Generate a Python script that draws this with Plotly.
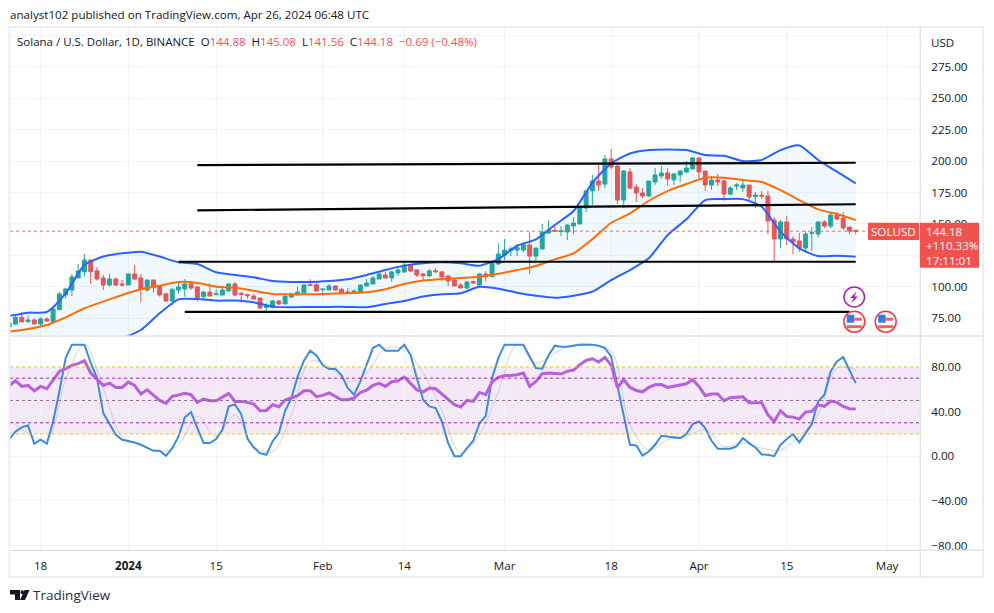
import pandas as pd
import plotly.graph_objects as go

# daily candles, Dec 13 2023 to Apr 26 2024
candle_dates = pd.date_range("2023-12-13", "2024-04-26", freq="D")
candle_open = [68.3,70.4,75.7,72.3,73.6,70.4,74.4,72,81.8,93.5,97.4,107,111.8,121.3,112.6,107,101.4,106.2,102.2,
    101.4,110.2,107,97.4,105.4,100.6,94.3,88.7,97.4,98.2,102.2,99.8,92.1,95.8,93.7,93.4,96.6,102.2,94.7,93.7,92.6,91,83.6,83.6,88.7,86.3,91.8,93.4,95,101.6,101.6,
    97.7,97.4,100.6,98,94.8,94.8,95.6,100.6,102.2,106.2,109.4,107,111,111.8,117.3,113.4,110.2,108.6,112.8,111.8,108.6,105.4,101.4,99,104.1,101.4,110.1,108,118.1,
    125.2,129,129.2,129.2,133.2,124.4,130,142.7,144.8,144,143.5,148.3,149.9,162.6,176.2,184.1,181.7,201.6,196,169,191.3,179.3,174.6,172.2,183.3,188.1,190.5,185,188.9,191.3,193.6,
    202.4,192,180.9,184.9,184.1,173.7,180.1,178.5,180.9,171.6,172.9,172.1,153,138,151.5,138,136.4,130.8,142.5,141.9,151.5,148.3,157,154.6,147.5,144.88]
candle_high = [71,76.8,80,77.3,74.9,75.7,75.7,82.9,95.9,99.3,110.2,118.1,126,121.3,115.5,109.4,110.2,107.5,105.4,
    110.2,117.3,110.2,105.4,105.4,100.6,95.3,99.3,104.6,106.1,104.6,100.6,96.6,102.7,97.9,99.3,102.7,103.8,96,94.5,94.5,91.8,86.8,89.4,89.4,93.2,94.8,100.3,101.9,106.1,102.7,
    98.2,102.2,101.4,99,99,98.2,101.4,106.2,108.6,110.7,111.8,112.6,115.7,119.7,118.1,114.1,111,114.1,114.9,112.6,108.6,106.2,103,104.6,104.9,111,112.5,119.9,134.5,
    138,131.9,134,135,143,130.8,149.9,153,148.8,148.3,149.9,155.4,164.2,176.2,188.9,197.6,204.8,209.5,199.2,192.9,194.4,181.7,178.5,184.1,194.4,196,194.4,190.5,192.9,200,203.2,
    203.2,192,188,189.7,184.9,180.1,182.5,185.6,180.9,175.3,176.1,176.1,155.4,153,156.2,140.3,142.7,144.3,147.5,152.3,153,158.6,159.4,159.4,147.5,145.08]
candle_low = [68.3,69.6,72,71,70.4,67.5,72,72,81.8,90.8,92.7,107,108,102.2,104.9,97.4,100.1,100.6,100.1,
    101.4,105.4,87.4,96.1,95.3,92.2,88.2,85.5,94.7,92.1,97.4,88.1,89.4,92.6,93.7,93.4,96.6,92.6,87.3,90.5,90.2,82.3,78.9,82.8,85.5,86.3,91.3,93.4,95,101.1,95.8,
    92.6,97.4,96.7,94.3,94.3,94.3,94.8,100.6,102.2,106.2,107,103.8,108.6,111,111.8,107.8,105.4,107.8,111,104.6,100.6,100.6,99,98.2,102.2,100.6,104.4,108,117.3,
    121.2,124.4,124.4,127.6,110.1,119.7,130,141.9,143.5,140.3,137.2,141.9,149.9,159.4,165,176.2,178.5,193.6,165.8,162.6,177,167.4,170.6,171.4,180.9,185.7,180.1,180.9,183.3,190.5,193.6,
    186.5,176.2,177,180.1,168.2,172.9,176.9,175.3,169,162.6,169.7,141.9,119.7,130.8,133.2,125.8,127.6,127.6,128.4,139.5,146.7,146.7,153,145.1,141.9,141.56]
candle_close = [71,75.7,72,73.6,70.4,74.4,72.8,82.3,94.3,98.2,107.8,112.6,121.3,112,106.2,101.4,106.2,101.4,101.4,
    110.2,106.2,98,105.4,99.3,93.5,88.7,97.9,99.8,102.2,99,91.3,95.8,92.6,94.5,97.4,102.2,93.4,94,92.9,90.2,83.1,84.9,88.7,86.3,92.6,94.2,95.8,101.4,101.1,96.6,
    98.2,100.6,97.4,94.8,95.9,96.7,101.4,103,107,110.2,107,111.8,113.4,117.3,112.6,109.4,108.8,112.6,112,107.8,104.6,100.6,99,103.8,103,110.1,108,118.6,126,
    129.2,130,131,133.4,124.4,130.8,143.5,145.1,144.3,144.3,149,150.7,163.4,176.2,184.1,180.9,201.6,195.2,169,192,178.5,174.6,172.2,184.1,188.9,190.5,185.7,189.7,192,194.4,202.4,
    191.3,180.9,184.9,183.3,173.8,178.5,180.9,180.9,171.3,172.9,172.1,152.3,138,151.5,138,135.6,130.8,141.9,142.9,151.5,148.3,157,153.9,146.7,144.3,144.18]

# bollinger bands, read every third day
band_dates = pd.date_range("2023-12-13", "2024-04-26", freq="3D")
bb_upper = [76.8,79.4,80,94.8,117.3,124,126.6,127.9,124,119.4,118.1,111.5,109.4,107.5,104.6,103.8,103.8,104.6,105.9,109.4,113.4,116.8,118.7,119.4,118.7,116.8,122,
    132.6,137.7,149.1,160.2,182.7,198.1,206,208.7,209.2,208.7,204.7,204.2,200,200.8,208.7,212.4,200.8,191.5,182.2]
bb_lower = [56,56,55,54,54,54,59,65.6,78.9,90,90.3,89,89,87.6,84.2,83.7,83.9,84,84,83.7,86.3,88.7,92.2,94,94.8,100,98.5,
    95.3,92.9,91.3,92.9,96.1,105.3,113.3,122.6,141.1,153.6,168.9,169.7,169.7,163.6,143.8,130.5,124.4,124.7,123.9]
bb_basis = [64.3,66.4,69.6,75.7,82.9,88.2,93.5,98,100.9,103.8,103,100.1,99.3,96.9,94.3,94,94,94.5,94.8,95.6,98,102.2,104.9,106.2,107,108,110.3,
    113.3,116.5,121.8,126.5,137.9,150.9,158.3,168.4,176.1,181.7,186.7,186.7,184.9,183.3,176.9,168.9,161.5,157.8,153]

# stochastic %K and RSI, daily; %D read every third day
stoch_k = [14.8,22.3,25.9,27.7,11.2,14.8,11.2,31.2,58.1,88,100,100,100,83.6,70.1,38.7,28.3,19.3,14.8,13.9,12.4,10.3,7.3,4.9,4.9,0.4,7.3,17.8,34.8,39.6,25.3,11.8,11.8,15.4,23.8,44.7,46.5,37.8,15.7,7.9,2.8,1.3,13.3,20.8,40.8,52.2,71.6,85.7,94.6,90.4,81.5,78.2,78.5,72.5,61.1,55.2,67.1,82.1,97,100,94.6,94.6,94.6,100,91,70.1,50.7,44.7,43.2,31.2,11.8,0,0,7.3,13.9,29.7,36.3,70.1,88,
    100,100,100,100,89.5,79.1,78.5,90.4,99.1,98.2,98.2,99.4,100,100,100,99.1,97,89.5,62.6,37.2,10.3,9.7,0.7,4.3,10.3,18.4,17.8,16.9,16.3,19.9,28.8,31.2,25.3,13.9,6.7,6.7,6.7,8.8,16.3,11.8,7.9,1.6,1.3,0.1,10.3,15.4,19.9,12.4,20.8,28.8,49.2,55.2,76.1,85,88.9,77.6,65.6]
stoch_d = [32.7,20.8,14.8,68.6,100,61.1,17.8,10.3,4.3,10.3,35.7,17.8,37.2,8.8,4.3,37.2,85,80.6,67.1,74.6,97,95.5,74.6,40.8,2.8,19.3,58,
    100,83.6,92.5,100,100,94,28.3,5.8,14.8,17.8,23.8,8.8,11.8,7.3,5.8,17.8,37.2,79.1,77.6]
rsi = [63.5,67.7,62.6,63.5,58.7,62.6,60.5,68.6,76.1,78.5,81.5,83,85.7,74.6,68.6,63.5,65.6,61.7,61.7,66.5,63.5,55.8,59.6,55.2,50.1,47.4,53.7,54.9,56.4,55.2,48.3,51.3,49.8,49.8,52.8,56.4,49.2,49.2,48.3,46.8,40.8,41.1,46.2,44.4,50.4,52.2,54.3,58.7,58.7,53.4,54.6,56.7,54,50.7,50.7,52.2,57.2,59.3,63.5,65.3,62.6,66.8,67.7,71,65.3,59.6,57.5,61.1,60.5,55.8,50.7,46.2,44.1,50.1,49.2,57.2,55.2,66.5,70.7,
    72.5,72.5,73.1,74.6,62.6,67.1,74,74.6,74,73.7,76.1,77.3,82.1,85.9,87.4,84.5,88.6,81.5,61.7,68.6,61.7,59,57.8,61.7,64.1,64.4,61.7,62.6,64.1,65,68.6,62.6,54.3,55.8,55.8,49.8,52.5,53.1,53.4,48,48.3,48,37.2,31.2,40.8,35.7,35.1,33.3,39.6,40.2,46.2,44.7,49.5,48.3,44.7,42.6,42.3]

# hand drawn trend lines: start date, end date, start price, end price
line_starts = ["2024-01-12", "2024-01-12", "2024-01-09", "2024-01-10"]
line_ends = ["2024-04-26", "2024-04-26", "2024-04-26", "2024-04-25"]
line_first = [196.8, 160.8, 119.9, 80]
line_last = [198.6, 165.6, 119.9, 80]

last_price = 144.18
date_ticks = ["2023-12-18", "2024-01-01", "2024-01-15", "2024-02-01", "2024-02-14", "2024-03-01", "2024-03-18", "2024-04-01", "2024-04-15", "2024-05-01"]
date_labels = ["18", "<b>2024</b>", "15", "Feb", "14", "Mar", "18", "Apr", "15", "May"]
price_ticks = [75, 100, 125, 150, 175, 200, 225, 250, 275, 300]
price_labels = ["75.00", "100.00", "", "150.00", "175.00", "200.00", "225.00", "250.00", "275.00", ""]
osc_ticks = [-80, -40, 0, 40, 80]
osc_labels = ["\u221280.00", "\u221240.00", "0.00", "40.00", "80.00"]

FONT = "Open Sans"
TEXT = "#131722"
GRID = "#f0f3fa"
EDGE = "#e0e3eb"
RED = "#ef5350"
GREEN = "#26a69a"

assert len(candle_dates) == len(candle_open) == len(candle_high) == len(candle_low) == len(candle_close) == len(stoch_k) == len(rsi)
assert len(band_dates) == len(bb_upper) == len(bb_lower) == len(bb_basis) == len(stoch_d)


# page pixels to paper coordinates, for the frame, tags and icons
def px(x):
    return (x - 10) / 910


def py(y):
    return (550 - y) / 523


fig = go.Figure()

fig.add_trace(go.Candlestick(
    x=candle_dates, open=candle_open, high=candle_high, low=candle_low, close=candle_close,
    increasing=dict(line=dict(color=GREEN, width=1), fillcolor=GREEN),
    decreasing=dict(line=dict(color=RED, width=1), fillcolor=RED),
    whiskerwidth=0, showlegend=False))

fig.add_trace(go.Scatter(x=band_dates, y=bb_lower, mode="lines", line=dict(color="#2962ff", width=2, shape="spline", smoothing=0.6), showlegend=False))
fig.add_trace(go.Scatter(x=band_dates, y=bb_upper, mode="lines", line=dict(color="#2962ff", width=2, shape="spline", smoothing=0.6),
                         fill="tonexty", fillcolor="rgba(33,150,243,0.06)", showlegend=False))
fig.add_trace(go.Scatter(x=band_dates, y=bb_basis, mode="lines", line=dict(color="#ff6d00", width=2, shape="spline", smoothing=0.6), showlegend=False))

for start, end, first, last in zip(line_starts, line_ends, line_first, line_last):
    fig.add_trace(go.Scatter(x=[start, end], y=[first, last], mode="lines",
                             line=dict(color="#000000", width=2.2), showlegend=False))

fig.add_trace(go.Scatter(x=band_dates, y=stoch_d, mode="lines", xaxis="x2", yaxis="y2",
                         line=dict(color="rgba(190,190,200,0.7)", width=1, shape="spline"), showlegend=False))
fig.add_trace(go.Scatter(x=candle_dates, y=stoch_k, mode="lines", xaxis="x2", yaxis="y2",
                         line=dict(color="#3d8bdb", width=2), showlegend=False))
fig.add_trace(go.Scatter(x=candle_dates, y=rsi, mode="lines", xaxis="x2", yaxis="y2",
                         line=dict(color="#b85fdc", width=3), showlegend=False))

shapes = [
    # oscillator band and its dotted levels
    dict(type="rect", xref="paper", yref="y2", x0=0, x1=1, y0=20, y1=80, layer="below",
         fillcolor="rgba(156,39,176,0.1)", line=dict(width=0)),
    dict(type="line", xref="paper", yref="y2", x0=0, x1=1, y0=80, y1=80, line=dict(color="#e8c21a", width=1, dash="dot")),
    dict(type="line", xref="paper", yref="y2", x0=0, x1=1, y0=20, y1=20, line=dict(color="#e8c21a", width=1, dash="dot")),
    dict(type="line", xref="paper", yref="y2", x0=0, x1=1, y0=70, y1=70, line=dict(color="#9c27b0", width=1, dash="dot")),
    dict(type="line", xref="paper", yref="y2", x0=0, x1=1, y0=50, y1=50, line=dict(color="#8f6aa0", width=1, dash="dot")),
    dict(type="line", xref="paper", yref="y2", x0=0, x1=1, y0=30, y1=30, line=dict(color="#9c27b0", width=1, dash="dot")),
    # last price
    dict(type="line", xref="paper", yref="y", x0=0, x1=1, y0=last_price, y1=last_price,
         line=dict(color="rgba(239,83,80,0.85)", width=1, dash="dot")),
    # frame
    dict(type="rect", xref="paper", yref="paper", x0=px(9.5), x1=px(983), y0=py(577), y1=py(27), line=dict(color="#eceef4", width=2)),
    dict(type="line", xref="paper", yref="paper", x0=px(10), x1=px(983), y0=py(336), y1=py(336), line=dict(color=EDGE, width=1.5)),
    dict(type="line", xref="paper", yref="paper", x0=px(10), x1=px(983), y0=py(550.3), y1=py(550.3), line=dict(color=EDGE, width=1.5)),
    dict(type="line", xref="paper", yref="paper", x0=px(920.3), x1=px(920.3), y0=py(27), y1=py(577), line=dict(color=EDGE, width=1.5)),
    # price tags
    dict(type="rect", xref="paper", yref="paper", x0=px(920), x1=px(979), y0=py(267.7), y1=py(222.7), fillcolor=RED, line=dict(width=0)),
    dict(type="rect", xref="paper", yref="paper", x0=px(868), x1=px(919), y0=py(240), y1=py(222.7), fillcolor=RED, line=dict(width=0)),
    # lightning icon
    dict(type="circle", xref="paper", yref="paper", x0=px(844), x1=px(864.5), y0=py(307), y1=py(287), fillcolor="#ffffff",
         line=dict(color="#9c27b0", width=1.5)),
]


def page_path(points):
    return "M " + " L ".join(f"{px(x)} {py(y)}" for x, y in points) + " Z"


shapes.append(dict(type="path", xref="paper", yref="paper", line=dict(width=0), fillcolor="#9c27b0",
                   path=page_path([(856.5, 291.5), (850, 298), (853.5, 298), (851.5, 303), (858, 296.5), (854.5, 296.5)])))

# flag icons for the two earnings/economic events
for cx in (854.3, 885.7):
    cy = 321.7
    shapes.append(dict(type="circle", xref="paper", yref="paper", x0=px(cx - 10.5), x1=px(cx + 10.5), y0=py(cy + 10.5), y1=py(cy - 10.5),
                       fillcolor="#ffffff", line=dict(color="#f23645", width=1.5)))
    shapes.append(dict(type="rect", xref="paper", yref="paper", x0=px(cx - 7.5), x1=px(cx), y0=py(cy + 1), y1=py(cy - 7),
                       fillcolor="#2e7de0", line=dict(width=0)))
    shapes.append(dict(type="rect", xref="paper", yref="paper", x0=px(cx), x1=px(cx + 7.5), y0=py(cy - 1), y1=py(cy - 4),
                       fillcolor="#f0606a", line=dict(width=0)))
    shapes.append(dict(type="rect", xref="paper", yref="paper", x0=px(cx - 7.5), x1=px(cx + 7.5), y0=py(cy + 6.5), y1=py(cy + 3.5),
                       fillcolor="#f0606a", line=dict(width=0)))

# TradingView mark
shapes.append(dict(type="path", xref="paper", yref="paper", line=dict(width=0), fillcolor=TEXT,
                   path=page_path([(10, 590), (20, 590), (20, 600), (15, 600), (15, 594.5), (10, 594.5)])))
shapes.append(dict(type="circle", xref="paper", yref="paper", x0=px(20.5), x1=px(24), y0=py(594), y1=py(590.3), fillcolor=TEXT, line=dict(width=0)))
shapes.append(dict(type="path", xref="paper", yref="paper", line=dict(width=0), fillcolor=TEXT,
                   path=page_path([(24.5, 590), (29.5, 590), (25, 600), (20, 600)])))


def note(x, y, text, size=11.6, color=TEXT, anchor="left"):
    return dict(xref="paper", yref="paper", x=px(x), y=py(y), text=text, showarrow=False, borderpad=0, borderwidth=0,
                xanchor=anchor, yanchor="middle", align=anchor, font=dict(family=FONT, size=size, color=color))


def red(text):
    return f'<span style="color:{RED}">{text}</span>'


header = ("Solana / U.S. Dollar, 1D, BINANCE &nbsp;O" + red("144.88") + " &nbsp;H" + red("145.08") + " &nbsp;L" + red("141.56")
          + " &nbsp;C" + red("144.18") + " &nbsp;" + red("\u22120.69 (\u22120.48%)"))

annotations = [
    note(10, 14.5, "analyst102 published on TradingView.com, Apr 26, 2024 06:48 UTC"),
    note(17, 41.5, header, size=11.5),
    note(943, 43, "USD", anchor="center"),
    note(893.5, 231.5, "SOLUSD", color="#ffffff", anchor="center"),
    note(926, 232, "144.18", color="#ffffff"),
    note(926, 246, "+110.33%", color="#ffffff"),
    note(926, 260, "17:11:01", color="#ffffff"),
    note(33, 595, "TradingView", size=13.5, color="#2a2e39"),
]

x_range = ["2023-12-13 03:00", "2024-05-06 06:00"]
x_common = dict(type="date", range=x_range, tickmode="array", tickvals=date_ticks, ticktext=date_labels,
                showgrid=True, gridcolor=GRID, gridwidth=1, zeroline=False, showline=False, rangeslider=dict(visible=False))
y_common = dict(side="right", showgrid=True, gridcolor=GRID, gridwidth=1, zeroline=False, showline=False, tickmode="array",
                ticks="outside", ticklen=8, tickcolor="rgba(0,0,0,0)", tickfont=dict(family=FONT, size=11.6, color=TEXT))

fig.update_layout(
    width=994, height=613, margin=dict(l=10, r=74, t=27, b=63, autoexpand=False),
    paper_bgcolor="#ffffff", plot_bgcolor="#ffffff", showlegend=False, hovermode=False, boxgap=0.1,
    xaxis=dict(anchor="y", domain=[0, 1], showticklabels=False, **x_common),
    xaxis2=dict(anchor="y2", domain=[0, 1], ticks="outside", ticklen=5, tickcolor="rgba(0,0,0,0)",
                tickfont=dict(family=FONT, size=11.6, color=TEXT), **x_common),
    yaxis=dict(anchor="x", domain=[py(336), 1], range=[60.85, 306.55], tickvals=price_ticks, ticktext=price_labels, **y_common),
    yaxis2=dict(anchor="x2", domain=[0, py(336)], range=[-84, 107.8], tickvals=osc_ticks, ticktext=osc_labels, **y_common),
    shapes=shapes, annotations=annotations,
)

# the page has a default body margin that would push the figure off by 8px
fig.write_html("out.html", config=dict(displayModeBar=False),
               post_script="document.body.style.margin='0';document.body.style.overflow='hidden';")
